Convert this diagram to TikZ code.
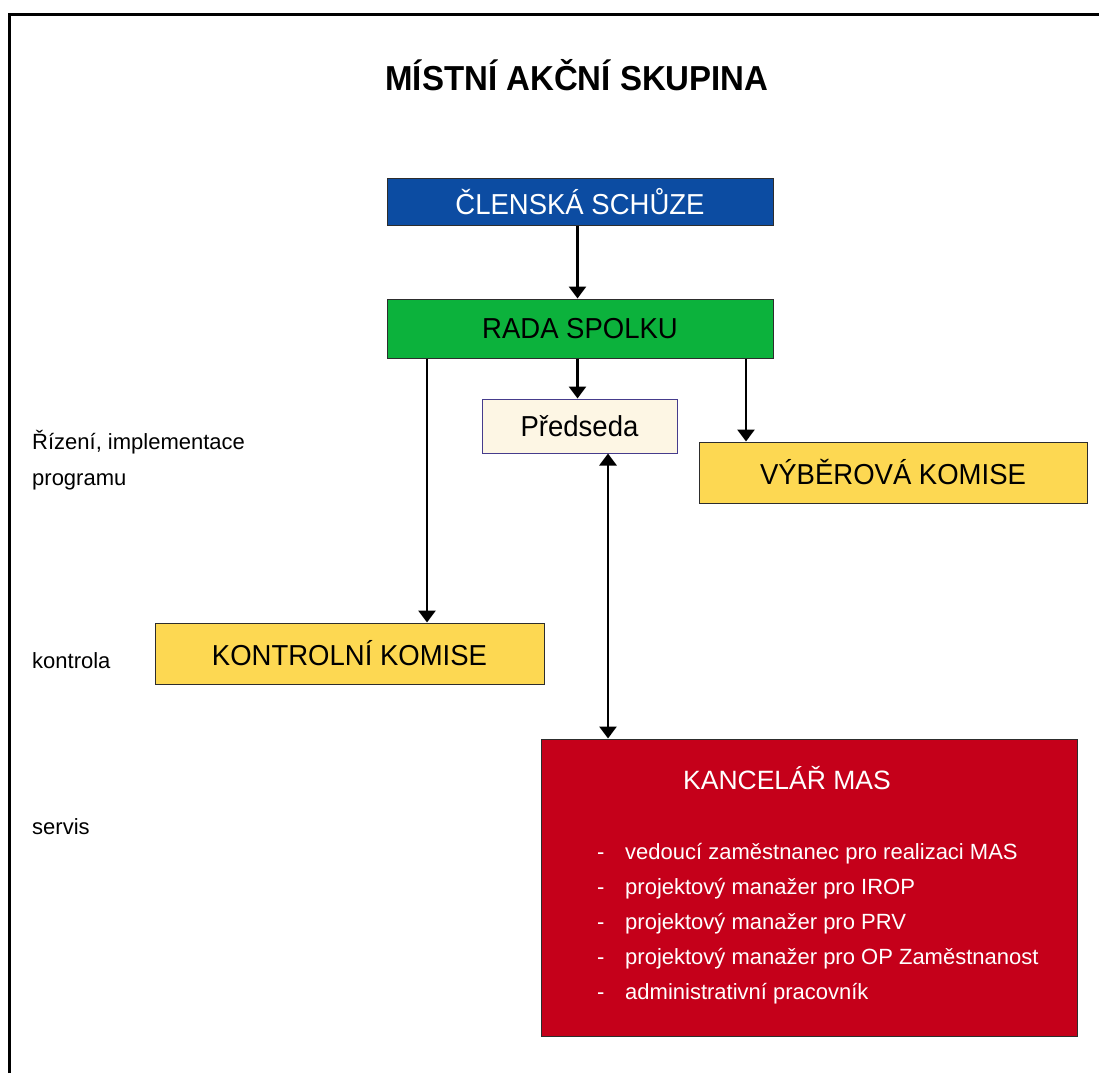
\documentclass[tikz,border=0pt]{standalone}
\usepackage{fontspec}
\setmainfont{Liberation Sans}
\usetikzlibrary{arrows.meta}
\definecolor{blueC}{RGB}{12,76,162}
\definecolor{greenC}{RGB}{12,178,60}
\definecolor{yellowC}{RGB}{253,216,82}
\definecolor{redC}{RGB}{197,0,26}
\definecolor{creamC}{RGB}{253,246,228}
\definecolor{edgeC}{RGB}{45,45,45}
\definecolor{predEdge}{RGB}{70,60,140}
\newcommand{\tallT}[1]{\scalebox{1}[1.05]{#1}}
\tikzset{
  box/.style={draw=edgeC, line width=1pt, inner sep=0pt, font=\fontsize{27.5}{33}\selectfont},
  arr/.style={line width=2.8pt, -{Triangle[width=17pt,length=12pt]}},
  darr/.style={line width=2.8pt, {Triangle[width=17pt,length=12pt]}-{Triangle[width=17pt,length=12pt]}},
  side/.style={anchor=base west, inner sep=0pt, font=\fontsize{22}{26}\selectfont},
  item/.style={anchor=base west, inner sep=0pt, text=white, font=\fontsize{22}{26}\selectfont}
}
\begin{document}
\begin{tikzpicture}[x=1pt,y=-1pt]
\useasboundingbox (0,0) rectangle (1099,1073);
\fill[white] (0,0) rectangle (1099,1073);
% frame
\draw[line width=3pt] (9,1073) -- (9,15) -- (1099,15);
% title
\node[inner sep=0pt, font=\fontsize{33}{40}\selectfont\bfseries] (title) at (577,75) {\tallT{MÍSTNÍ AKČNÍ SKUPINA}};
% boxes
\node[box, fill=blueC, text=white, minimum width=386pt, minimum height=47pt] (cs) at (580,201.5) {\tallT{ČLENSKÁ SCHŮZE}};
\node[box, fill=greenC, text=black, minimum width=386pt, minimum height=59pt] (rada) at (580,328.5) {\tallT{RADA SPOLKU}};
\node[box, draw=predEdge, fill=creamC, text=black, minimum width=195pt, minimum height=54pt] (pred) at (579.5,426) {\tallT{Předseda}};
\node[box, fill=yellowC, text=black, minimum width=388pt, minimum height=61pt] (vyb) at (893,472.5) {\tallT{VÝBĚROVÁ KOMISE}};
\node[box, fill=yellowC, text=black, minimum width=389pt, minimum height=61pt] (kon) at (349.5,653.5) {\tallT{KONTROLNÍ KOMISE}};
\node[box, fill=redC, minimum width=536pt, minimum height=297pt] (kanc) at (809,887.5) {};
% office content
\node[anchor=base, inner sep=0pt, text=white, font=\fontsize{26.5}{32}\selectfont] (kt) at (787,789) {KANCELÁŘ MAS};
\node[item] (d1) at (597,859) {-};
\node[item] (i1) at (625,859) {vedoucí zaměstnanec pro realizaci MAS};
\node[item] (d2) at (597,894) {-};
\node[item] (i2) at (625,894) {projektový manažer pro IROP};
\node[item] (d3) at (597,929) {-};
\node[item] (i3) at (625,929) {projektový manažer pro PRV};
\node[item] (d4) at (597,964) {-};
\node[item] (i4) at (625,964) {projektový manažer pro OP Zaměstnanost};
\node[item] (d5) at (597,999) {-};
\node[item] (i5) at (625,999) {administrativní pracovník};
% side labels
\node[side] (s1) at (32,449) {Řízení, implementace};
\node[side] (s2) at (32,485) {programu};
\node[side] (s3) at (32,668) {kontrola};
\node[side] (s4) at (32,834) {servis};
% connector columns
\coordinate (xk) at (427,0);
\coordinate (xv) at (746,0);
\coordinate (xp) at (577.5,0);
\coordinate (xd) at (608,0);
% arrows
\draw[arr] (cs.south -| xp) -- (rada.north -| xp);
\draw[arr] (rada.south -| xp) -- (pred.north -| xp);
\draw[arr] (rada.south -| xv) -- (vyb.north -| xv);
\draw[arr] (rada.south -| xk) -- (kon.north -| xk);
\draw[darr] (pred.south -| xd) -- (kanc.north -| xd);
\end{tikzpicture}
\end{document}
